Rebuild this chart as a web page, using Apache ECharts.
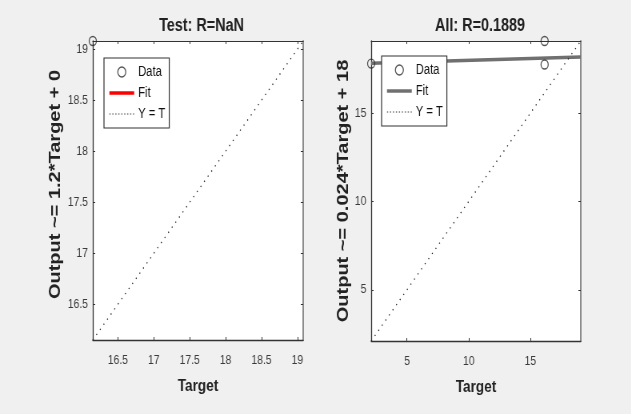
<!DOCTYPE html>
<html>
<head>
<meta charset="utf-8">
<script src="https://cdn.jsdelivr.net/npm/echarts@6/dist/echarts.min.js"></script>
<style>
  html, body { margin: 0; padding: 0; background: #f0f0f0; overflow: hidden; }
  /* the reference figure is squeezed horizontally, so draw wide and squeeze */
  #main { width: 789px; height: 414px; transform: scaleX(0.8); transform-origin: 0 0; }
</style>
</head>
<body>
<div id="main"></div>
<script>
var FONT = '"Liberation Sans", Arial, Helvetica, sans-serif';

// test set
var testTarget = [16.15];
var testOutput = [19.08];
var testLimits = [16.15, 19.08];
var testTicks = [16.5, 17, 17.5, 18, 18.5, 19];

// all data
var allTarget = [2.1, 16.15, 16.15];
var allOutput = [17.8, 19.08, 17.75];
var allFitX = [2.1, 19.08];
var allFitY = [17.82, 18.18];
var allLimits = [2.1, 19.08];
var allTicks = [5, 10, 15];

var titles = ['Test: R=NaN', 'All: R=0.1889'];
var yNames = ['Output ~= 1.2*Target + 0', 'Output ~= 0.024*Target + 18'];
var fitColors = ['#ff0000', '#707070'];

function pairs(xs, ys) {
    var res = [];
    for (var i = 0; i < xs.length; i++) res.push([xs[i], ys[i]]);
    return res;
}

var dom = document.getElementById('main');
var myChart = echarts.init(dom, null, { width: 789, height: 414 });

// layout in unsqueezed pixels (x / 0.8)
var grids = [
    { left: 116, top: 41, width: 263, height: 299 },
    { left: 464, top: 41, width: 262, height: 300 }
];
var limits = [testLimits, allLimits];
var ticks = [testTicks, allTicks];
var legendPos = [[130, 58], [477, 56]];
var yNameGap = [37, 22];
var yNamePad = [[0, 0, 0, 12], [0, 0, 0, 0]];

var xAxes = [], yAxes = [];
for (var g = 0; g < 2; g++) {
    var base = {
        gridIndex: g,
        type: 'value',
        min: limits[g][0],
        max: limits[g][1],
        splitLine: { show: false },
        axisLine: { show: true, onZero: false, lineStyle: { color: '#333', width: 1.3 } },
        axisTick: { show: true, inside: true, length: 3, customValues: ticks[g], lineStyle: { color: '#333' } },
        axisLabel: { customValues: ticks[g], color: '#3a3a3a', fontSize: 13, fontFamily: FONT }
    };
    xAxes.push(Object.assign({}, base, {
        position: 'bottom',
        axisLabel: Object.assign({}, base.axisLabel, { margin: 14 }),
        name: 'Target',
        nameLocation: 'middle',
        nameGap: 38,
        nameTextStyle: { fontSize: 17, fontWeight: 'bold', color: '#222', fontFamily: FONT }
    }));
    yAxes.push(Object.assign({}, base, {
        position: 'left',
        axisLabel: Object.assign({}, base.axisLabel, { margin: 6 }),
        name: yNames[g],
        nameLocation: 'middle',
        nameRotate: 90,
        nameGap: yNameGap[g],
        nameTextStyle: { fontSize: 20, fontWeight: 'bold', color: '#222', fontFamily: FONT, padding: yNamePad[g] }
    }));
    // mirror axes close the box
    xAxes.push(Object.assign({}, base, {
        position: 'top',
        axisLabel: { show: false },
        axisLine: { show: true, onZero: false, lineStyle: { color: '#333', width: 1.2 } }
    }));
    yAxes.push(Object.assign({}, base, {
        position: 'right',
        axisLabel: { show: false },
        axisLine: { show: true, onZero: false, lineStyle: { color: '#8c8c8c', width: 2 } }
    }));
}
// grid0 -> xAxis 0 / yAxis 0, grid1 -> xAxis 2 / yAxis 2

var circleStyle = { color: 'transparent', borderColor: '#2a2a2a', borderWidth: 1.3 };
var dotted = [1.3, 5.5];

var option = {
    backgroundColor: '#f0f0f0',
    animation: false,
    title: [
        { text: titles[0], left: 247, top: 12, textAlign: 'center',
          textStyle: { fontSize: 18, fontWeight: 'bold', color: '#222', fontFamily: FONT } },
        { text: titles[1], left: 595, top: 12, textAlign: 'center',
          textStyle: { fontSize: 18, fontWeight: 'bold', color: '#222', fontFamily: FONT } }
    ],
    grid: grids.map(function (gr) {
        return Object.assign({ show: true, backgroundColor: '#fff', borderWidth: 0 }, gr);
    }),
    xAxis: xAxes,
    yAxis: yAxes,
    legend: legendPos.map(function (p, k) {
        return {
            left: p[0], top: p[1],
            orient: 'vertical',
            backgroundColor: '#fff',
            borderColor: '#333',
            borderWidth: 1.2,
            borderRadius: 0,
            padding: [7, 5, 7, 5],
            itemWidth: 31,
            itemHeight: 10,
            itemGap: 7,
            selectedMode: false,
            textStyle: { fontSize: 14, color: '#111', fontFamily: FONT },
            data: [
                { name: 'Data', icon: 'circle', itemStyle: circleStyle },
                { name: 'Fit', lineStyle: { color: fitColors[k], width: 3.5 },
                  itemStyle: { color: 'transparent', borderColor: 'transparent', opacity: 0 } },
                { name: 'Y = T', lineStyle: { color: '#333', width: 1, type: [1.5, 2.2] },
                  itemStyle: { color: 'transparent', borderColor: 'transparent', opacity: 0 } }
            ]
        };
    }),
    series: [
        {
            name: 'Data', type: 'scatter', xAxisIndex: 0, yAxisIndex: 0, clip: false,
            symbol: 'circle', symbolSize: 9, itemStyle: circleStyle,
            data: pairs(testTarget, testOutput), z: 5
        },
        {
            name: 'Fit', type: 'line', xAxisIndex: 0, yAxisIndex: 0,
            showSymbol: false, symbol: 'none', lineStyle: { color: fitColors[0], width: 3 },
            data: []
        },
        {
            name: 'Y = T', type: 'line', xAxisIndex: 0, yAxisIndex: 0,
            showSymbol: false, symbol: 'none', lineStyle: { color: '#222', width: 1.3, type: dotted },
            data: [[testLimits[0], testLimits[0]], [testLimits[1], testLimits[1]]]
        },
        {
            name: 'Data', type: 'scatter', xAxisIndex: 2, yAxisIndex: 2, clip: false,
            symbol: 'circle', symbolSize: 9, itemStyle: circleStyle,
            data: pairs(allTarget, allOutput), z: 5
        },
        {
            name: 'Fit', type: 'line', xAxisIndex: 2, yAxisIndex: 2,
            showSymbol: false, symbol: 'none', lineStyle: { color: fitColors[1], width: 3.5 },
            data: pairs(allFitX, allFitY)
        },
        {
            name: 'Y = T', type: 'line', xAxisIndex: 2, yAxisIndex: 2,
            showSymbol: false, symbol: 'none', lineStyle: { color: '#222', width: 1.3, type: dotted },
            data: [[allLimits[0], allLimits[0]], [allLimits[1], allLimits[1]]]
        }
    ]
};

myChart.setOption(option);
</script>
</body>
</html>
